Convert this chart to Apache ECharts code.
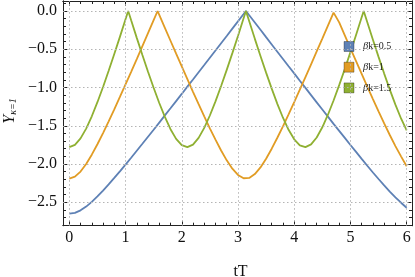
<!DOCTYPE html>
<html>
<head>
<meta charset="utf-8">
<script src="https://cdn.jsdelivr.net/npm/echarts@6/dist/echarts.min.js"></script>
<style>html,body{margin:0;padding:0;background:#fff}#c{width:415px;height:277px}</style>
</head>
<body>
<div id="c"></div>
<script>
// time grid (tT)
const tGrid = [0,0.1,0.2,0.3,0.4,0.5,0.6,0.7,0.8,0.9,1.0,1.1,1.2,1.3,1.4,1.5,1.6,1.7,1.8,1.9,2.0,2.1,2.2,2.3,2.4,2.5,2.6,2.7,2.8,2.9,3.0,3.1,3.2,3.3,3.4,3.5,3.6,3.7,3.8,3.9,4.0,4.1,4.2,4.3,4.4,4.5,4.6,4.7,4.8,4.9,5.0,5.1,5.2,5.3,5.4,5.5,5.6,5.7,5.8,5.9,6.0];
// βk=0.5
const yBlue = [-2.650,-2.639,-2.606,-2.557,-2.495,-2.424,-2.347,-2.266,-2.182,-2.096,-2.008,-1.918,-1.827,-1.736,-1.644,-1.552,-1.459,-1.365,-1.272,-1.178,-1.084,-0.989,-0.895,-0.800,-0.706,-0.611,-0.516,-0.421,-0.326,-0.230,-0.135,-0.040,
  -0.056,-0.151,-0.246,-0.342,-0.437,-0.532,-0.627,-0.722,-0.816,-0.911,-1.005,-1.100,-1.194,-1.288,-1.381,-1.475,-1.567,-1.659,-1.751,-1.842,-1.933,-2.023,-2.111,-2.196,-2.280,-2.360,-2.436,-2.506,-2.572];
const peaksBlue = [[3.1416,0]];
// βk=1
const yOrange = [-2.190,-2.166,-2.099,-2.000,-1.878,-1.742,-1.596,-1.442,-1.285,-1.124,-0.960,-0.795,-0.628,-0.459,-0.290,-0.120,
  -0.050,-0.220,-0.389,-0.558,-0.725,-0.891,-1.056,-1.218,-1.377,-1.533,-1.682,-1.823,-1.952,-2.061,-2.143,-2.186,
  -2.182,-2.132,-2.045,-1.931,-1.800,-1.657,-1.507,-1.351,-1.191,-1.028,-0.864,-0.697,-0.529,-0.361,-0.191,-0.021,
  -0.149,-0.319,-0.488,-0.656,-0.822,-0.988,-1.151,-1.312,-1.469,-1.621,-1.766,-1.900,-2.030];
const peaksOrange = [[1.5708,0],[4.7124,0]];
// βk=1.5
const yGreen = [-1.780,-1.750,-1.665,-1.537,-1.376,-1.192,-0.993,-0.782,-0.563,-0.338,-0.109,
  -0.122,-0.351,-0.575,-0.794,-1.004,-1.203,-1.385,-1.545,-1.671,-1.753,
  -1.780,-1.747,-1.659,-1.528,-1.366,-1.181,-0.981,-0.770,-0.551,-0.326,-0.096,
  -0.135,-0.364,-0.588,-0.806,-1.015,-1.214,-1.395,-1.553,-1.677,-1.756,
  -1.779,-1.743,-1.653,-1.520,-1.356,-1.170,-0.969,-0.758,-0.538,-0.313,-0.083,
  -0.148,-0.376,-0.600,-0.818,-1.027,-1.224,-1.405,-1.561];
const peaksGreen = [[1.0472,0],[3.1416,0],[5.2360,0]];

const seriesNames = ['βk=0.5','βk=1','βk=1.5'];
const colors = ['#5E81B5','#E19C24','#8FB032'];

const majorX = [0,1,2,3,4,5,6];
const minorX = [0.2,0.4,0.6,0.8,1.2,1.4,1.6,1.8,2.2,2.4,2.6,2.8,3.2,3.4,3.6,3.8,4.2,4.4,4.6,4.8,5.2,5.4,5.6,5.8];
const majorY = [-2.5,-2.0,-1.5,-1.0,-0.5,0.0];
const minorY = [-2.8,-2.7,-2.6,-2.4,-2.3,-2.2,-2.1,-1.9,-1.8,-1.7,-1.6,-1.4,-1.3,-1.2,-1.1,-0.9,-0.8,-0.7,-0.6,-0.4,-0.3,-0.2,-0.1,0.1];

const X_MIN = -0.112, X_MAX = 6.095, Y_MIN = -2.8065, Y_MAX = 0.1307;

function build(ys, peaks){
  const pts = tGrid.map((t,i)=>[t, ys[i]]).concat(peaks);
  pts.sort((a,b)=>a[0]-b[0]);
  return pts;
}

const serif = 'Liberation Serif';
const frameColor = '#222';
function xAx(pos, len, vals, labels){
  return {type:'value', position:pos, min:X_MIN, max:X_MAX,
    axisLine:{show:true, onZero:false, lineStyle:{color:frameColor, width:1}},
    axisTick:{show:true, inside:true, length:len, customValues:vals, lineStyle:{color:frameColor, width:1}},
    axisLabel: labels ? {show:true, customValues:majorX, fontFamily:serif, fontSize:16, color:'#111', margin:4, formatter:v=>String(Math.round(v))} : {show:false},
    splitLine:{show:false}};
}
function yAx(pos, len, vals, labels){
  return {type:'value', position:pos, min:Y_MIN, max:Y_MAX,
    axisLine:{show:true, onZero:false, lineStyle:{color:frameColor, width:1}},
    axisTick:{show:true, inside:true, length:len, customValues:vals, lineStyle:{color:frameColor, width:1}},
    axisLabel: labels ? {show:true, customValues:majorY, fontFamily:serif, fontSize:16, color:'#111', margin:6, formatter:v=>(v<0?'\u2212':'')+Math.abs(v).toFixed(1)} : {show:false},
    splitLine:{show:false}};
}

const gridLines = majorX.map(v=>({xAxis:v})).concat(majorY.map(v=>({yAxis:v})));

const chart = echarts.init(document.getElementById('c'), null, {renderer:'canvas'});
chart.setOption({
  animation:false,
  backgroundColor:'#fff',
  grid:{left:63, right:3, top:1, bottom:51.3},
  xAxis:[xAx('bottom',5,majorX,true), xAx('bottom',3,minorX,false), xAx('top',5,majorX,false), xAx('top',3,minorX,false)],
  yAxis:[yAx('left',5,majorY,true), yAx('left',3,minorY,false), yAx('right',5,majorY,false), yAx('right',3,minorY,false)],
  legend:{orient:'vertical', left:338.5, top:36, itemWidth:10, itemHeight:10, itemGap:9.7, icon:'rect',
    itemStyle:{borderColor:'rgba(0,0,0,0.3)', borderWidth:1},
    textStyle:{fontFamily:serif, fontSize:10, color:'#222', padding:[0,0,0,4],
      rich:{b:{fontFamily:serif, fontSize:10.5, fontStyle:'italic', color:'#222'}, r:{fontFamily:serif, fontSize:10, color:'#222'}}},
    formatter: n => '{b|β}{r|' + n.slice(1) + '}',
    data: seriesNames},
  graphic:[
    {type:'text', x:240.5, y:271.5, style:{text:'tT', font:'16px "Liberation Serif"', fill:'#111', textAlign:'center', textVerticalAlign:'middle'}},
    {type:'text', x:10, y:111, rotation:Math.PI/2, style:{
      text:'{y|Y}{s|κ=1}', textAlign:'center', textVerticalAlign:'middle',
      rich:{y:{fontFamily:serif, fontStyle:'italic', fontSize:16, fill:'#111'}, s:{fontFamily:serif, fontStyle:'italic', fontSize:10, fill:'#111', padding:[7,0,0,0]}}}}
  ],
  series:[
    {type:'line', name:'grid', data:[], z:1, silent:true,
      markLine:{silent:true, symbol:'none', label:{show:false}, animation:false,
        lineStyle:{color:'#b4b4b4', type:[1.5,2.5], width:1}, data:gridLines}},
    {type:'line', name:seriesNames[0], data:build(yBlue,peaksBlue), showSymbol:false, symbol:'none', color:colors[0], lineStyle:{width:1.8, color:colors[0]}, z:3},
    {type:'line', name:seriesNames[1], data:build(yOrange,peaksOrange), showSymbol:false, symbol:'none', color:colors[1], lineStyle:{width:1.8, color:colors[1]}, z:3},
    {type:'line', name:seriesNames[2], data:build(yGreen,peaksGreen), showSymbol:false, symbol:'none', color:colors[2], lineStyle:{width:1.8, color:colors[2]}, z:3}
  ]
});
</script>
</body>
</html>
